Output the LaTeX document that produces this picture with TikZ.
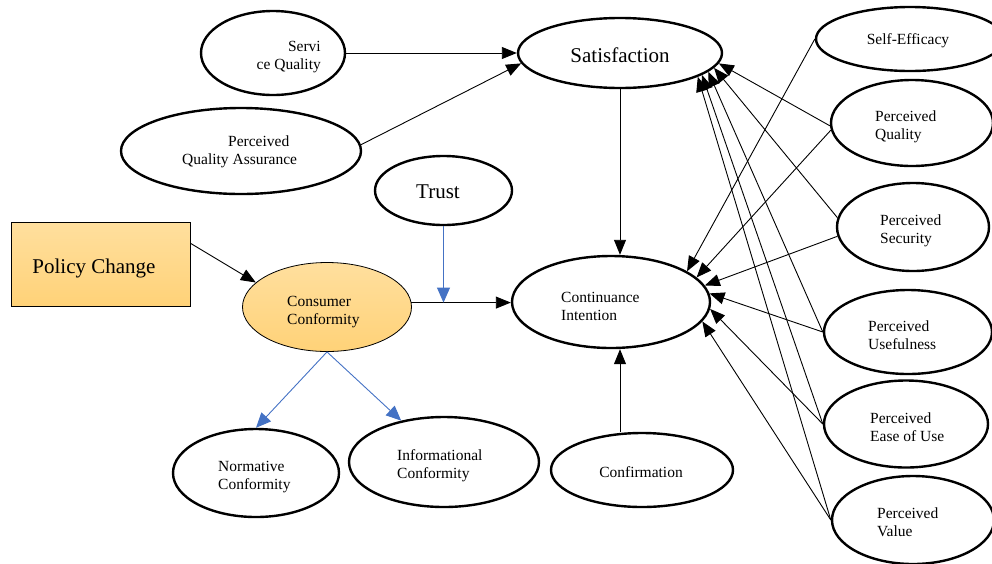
\documentclass[tikz,border=0pt]{standalone}
\usepackage{fontspec}
\setmainfont{Liberation Serif}
\usetikzlibrary{arrows.meta,shapes.geometric}

\definecolor{blueline}{RGB}{68,114,196}
\definecolor{peachtop}{RGB}{255,223,158}
\definecolor{peachbot}{RGB}{255,210,120}

\tikzset{
  oval/.style={ellipse,draw,line width=2.4pt,inner sep=0pt},
  peach/.style={top color=peachtop,bottom color=peachbot,draw,line width=0.8pt},
  lbl/.style={inner sep=0pt,align=left,font=\fontsize{15.5}{18}\selectfont},
  biglbl/.style={inner sep=0pt,font=\fontsize{21}{24}\selectfont},
  link/.style={line width=0.9pt,-{Triangle[length=15pt,width=12pt]}},
  bluelink/.style={draw=blueline,line width=0.9pt,-{Triangle[length=15pt,width=13pt]}},
}

\begin{document}
\begin{tikzpicture}[x=1pt,y=1pt,yscale=-1]
\useasboundingbox (0,0) rectangle (992,563);

%Shape: Ellipse [Service Quality]
\node [oval,minimum width=144,minimum height=84] (sq) at (273,53) {};
%Shape: Ellipse [Perceived Quality Assurance]
\node [oval,minimum width=240,minimum height=86] (pqa) at (241,151) {};
%Shape: Ellipse [Satisfaction]
\node [oval,minimum width=204,minimum height=70] (sat) at (620,53) {};
%Shape: Ellipse [Trust]
\node [oval,minimum width=137,minimum height=69] (trust) at (443.5,190.5) {};
%Shape: Rectangle [Policy Change]
\node [peach,rectangle,minimum width=179,minimum height=84] (pc) at (100.5,264) {};
%Shape: Ellipse [Consumer Conformity]
\node [peach,ellipse,minimum width=169,minimum height=89] (cc) at (327,307) {};
%Shape: Ellipse [Continuance Intention]
\node [oval,minimum width=198,minimum height=92] (ci) at (611,302) {};
%Shape: Ellipse [Normative Conformity]
\node [oval,minimum width=166,minimum height=88] (nc) at (256,473) {};
%Shape: Ellipse [Informational Conformity]
\node [oval,minimum width=190,minimum height=90] (ic) at (444,462) {};
%Shape: Ellipse [Confirmation]
\node [oval,minimum width=182,minimum height=74] (conf) at (642,470) {};
%Shape: Ellipse [Self-Efficacy]
\node [oval,minimum width=188,minimum height=64] (se) at (910,39) {};
%Shape: Ellipse [Perceived Quality]
\node [oval,minimum width=162,minimum height=86] (pq) at (912,123) {};
%Shape: Ellipse [Perceived Security]
\node [oval,minimum width=152,minimum height=88] (ps) at (913,227) {};
%Shape: Ellipse [Perceived Usefulness]
\node [oval,minimum width=168,minimum height=84] (pu) at (908,332) {};
%Shape: Ellipse [Perceived Ease of Use]
\node [oval,minimum width=164,minimum height=87] (peou) at (906,424) {};
%Shape: Ellipse [Perceived Value]
\node [oval,minimum width=162,minimum height=88] (pv) at (913,520) {};

% Text Node
\node [biglbl] (sat-t) at (620,55) {Satisfaction};
% Text Node
\node [biglbl] (trust-t) at (438,192) {Trust};
% Text Node
\node [biglbl] (pc-t) at (94,268) {Policy Change};
% Text Node
\node [lbl] (conf-t) at (641,472) {Confirmation};
% Text Node
\node [lbl] (se-t) at (908,41) {Self-Efficacy};
% Text Node
\node [lbl,align=right,anchor=east] (sq-t) at (321,57) {Servi\\ce Quality};
% Text Node
\node [lbl,anchor=west] (pqa-t) at (182,152) {\hspace*{46pt}Perceived\\Quality Assurance};
% Text Node
\node [lbl,anchor=west] (cc-t) at (287,312) {Consumer\\Conformity};
% Text Node
\node [lbl,anchor=west] (ci-t) at (561,306) {Continuance\\Intention};
% Text Node
\node [lbl,anchor=west] (nc-t) at (218,477) {Normative\\Conformity};
% Text Node
\node [lbl,anchor=west] (ic-t) at (397,466) {Informational\\Conformity};
% Text Node
\node [lbl,anchor=west] (pq-t) at (875,127) {Perceived\\Quality};
% Text Node
\node [lbl,anchor=west] (ps-t) at (880,231) {Perceived\\Security};
% Text Node
\node [lbl,anchor=west] (pu-t) at (868,335) {Perceived\\Usefulness};
% Text Node
\node [lbl,anchor=west] (peou-t) at (870,427) {Perceived\\Ease of Use};
% Text Node
\node [lbl,anchor=west] (pv-t) at (877,522) {Perceived\\Value};

%Straight Lines [left part]
\draw [link] (sq.east) -- (sat.west);
\draw [link] (pqa.3) -- (sat.186);
\draw [link] (sat.south) -- (sat.south |- ci.north);
\draw [link] (conf.north -| sat.south) -- (sat.south |- ci.south);
\draw [link] (pc.13) -- (cc.161);
\draw [link] (cc.3) -- (cc.3 -| ci.west);
\coordinate (tj) at (trust.south |- cc.3);
\draw [bluelink] (trust.south) -- (tj);
\draw [bluelink] (cc.south) -- (nc.north);
\draw [bluelink] (cc.south) -- (ic.136);

%Straight Lines [right part]
\draw [link] (se.west) -- (ci.22);
\draw [link] (pq.182) -- (sat.-6);
\draw [link] (pq.185) -- (ci.16);
\draw [link] (ps.173) -- (sat.-9);
\draw [link] (ps.187) -- (ci.10);
\draw [link] (pu.west) -- (sat.-12);
\draw [link] (pu.west) -- (ci.5);
\draw [link] (peou.west) -- (sat.-15);
\draw [link] (peou.west) -- (ci.-4);
\draw [link] (pv.west) -- (sat.-17);
\draw [link] (pv.west) -- (ci.-12);

\end{tikzpicture}
\end{document}
